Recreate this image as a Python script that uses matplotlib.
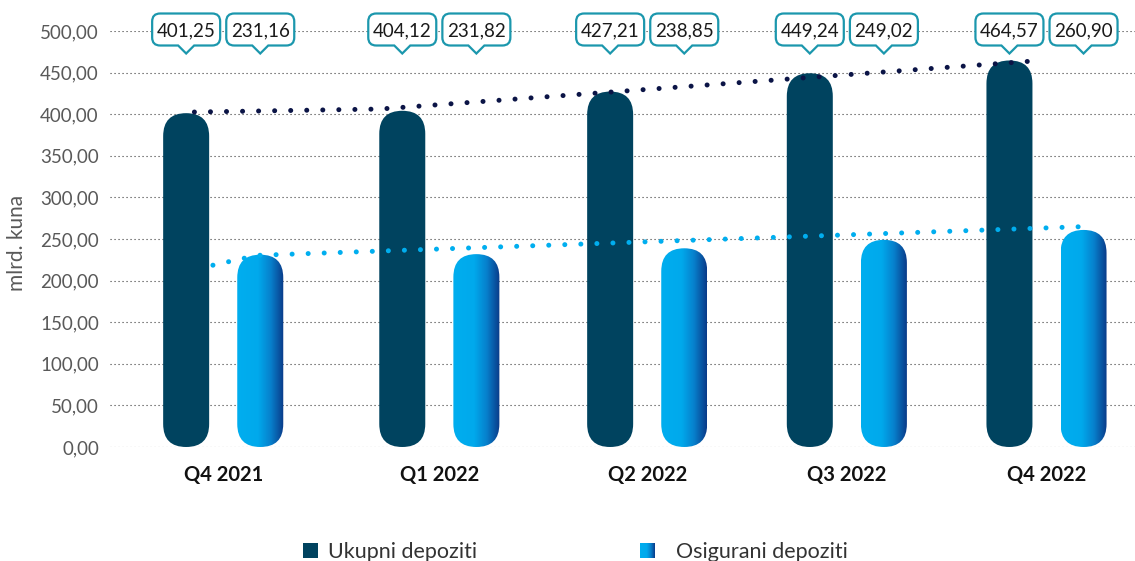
import numpy as np
import matplotlib
matplotlib.use('Agg')
import matplotlib.pyplot as plt
import matplotlib.transforms as mtransforms
from matplotlib.patches import FancyBboxPatch, Rectangle
from matplotlib.path import Path
from matplotlib.colors import LinearSegmentedColormap

plt.rcParams['font.family'] = ['Lato', 'DejaVu Sans']

quarters = ['Q4 2021', 'Q1 2022', 'Q2 2022', 'Q3 2022', 'Q4 2022']
ukupni = [401.25, 404.12, 427.21, 449.24, 464.57]
osigurani = [231.16, 231.82, 238.85, 249.02, 260.90]
y_ticks = [0, 50, 100, 150, 200, 250, 300, 350, 400, 450, 500]

# dotted trend lines (category position, value)
trend_uk_x = [-0.14, 0.76, 3.94]
trend_uk_y = [402.6, 406.2, 464.0]
trend_os_x = [-0.05, 0.10, 0.18, 4.17]
trend_os_y = [218.5, 226.8, 230.5, 264.8]

# group centres on the category axis (slightly uneven in the original)
group_x = [0.0, 1.05, 2.06, 3.03, 4.0]

DARK = '#00435F'
CYAN = '#00AEEF'
NAVY = '#0B1446'
TEAL = '#1B97AD'

W, H = 1135, 561
fig = plt.figure(figsize=(W / 100, H / 100), dpi=100)
ax_l, ax_r, ax_t, ax_b = 110, 1135, 31, 447
ax = fig.add_axes([ax_l / W, 1 - ax_b / H, (ax_r - ax_l) / W, (ax_b - ax_t) / H])

xlim = (-0.55, 4.43)
ylim = (0, 500)
ax.set_xlim(*xlim)
ax.set_ylim(*ylim)

# pixels per data unit, for the capsule shapes
px_x = (ax_r - ax_l) / (xlim[1] - xlim[0])
px_y = (ax_b - ax_t) / (ylim[1] - ylim[0])
bar_w = 46 / px_x
rad = bar_w / 2
aspect = (23 / px_y) / rad
off = 0.18

grad_cmap = LinearSegmentedColormap.from_list(
    'osig', [(0, '#00AEEF'), (0.45, '#00A9EC'), (0.72, '#0780CC'), (1.0, '#0A3A88')])
grad = np.linspace(0, 1, 256).reshape(1, -1)

x = np.array(group_x)
for i in range(len(quarters)):
    xd = x[i] - off - bar_w / 2
    p = FancyBboxPatch((xd, 0), bar_w, ukupni[i],
                       boxstyle=f'round,pad=0,rounding_size={rad}',
                       mutation_aspect=aspect, fc=DARK, ec='none', zorder=2)
    ax.add_patch(p)

    xo = x[i] + off - bar_w / 2
    p2 = FancyBboxPatch((xo, 0), bar_w, osigurani[i],
                        boxstyle=f'round,pad=0,rounding_size={rad}',
                        mutation_aspect=aspect, fc='none', ec='none', zorder=2)
    ax.add_patch(p2)
    im = ax.imshow(grad, extent=[xo, xo + bar_w, 0, osigurani[i]], aspect='auto',
                   cmap=grad_cmap, zorder=2, interpolation='bilinear')
    im.set_clip_path(p2)

ax.set_xlim(*xlim)
ax.set_ylim(*ylim)

# trend lines
ax.plot(trend_uk_x, trend_uk_y, color=NAVY, lw=3.6, linestyle=(0, (0.01, 3.2)),
        dash_capstyle='round', zorder=4, clip_on=False)
ax.plot(trend_os_x, trend_os_y, color=CYAN, lw=3.6, linestyle=(0, (0.01, 3.2)),
        dash_capstyle='round', zorder=4, clip_on=False)


def callout(x0, y0, width, height, mutation_size):
    cx = x0 + width / 2
    cy = y0 + height / 2 + 1.5
    w, h, r, n = 68, 32, 8, 8
    L, R, B, T = cx - w / 2, cx + w / 2, cy - h / 2, cy + h / 2
    verts = [(L + r, B), (cx - n, B), (cx, B - n), (cx + n, B), (R - r, B),
             (R, B), (R, B + r), (R, T - r), (R, T), (R - r, T), (L + r, T),
             (L, T), (L, T - r), (L, B + r), (L, B), (L + r, B), (L + r, B)]
    codes = [Path.MOVETO, Path.LINETO, Path.LINETO, Path.LINETO, Path.LINETO,
             Path.CURVE3, Path.CURVE3, Path.LINETO, Path.CURVE3, Path.CURVE3, Path.LINETO,
             Path.CURVE3, Path.CURVE3, Path.LINETO, Path.CURVE3, Path.CURVE3, Path.CLOSEPOLY]
    return Path(verts, codes)


def fmt(v):
    return f'{v:.2f}'.replace('.', ',')


trans = mtransforms.blended_transform_factory(ax.transData, ax.transAxes)
for i in range(len(quarters)):
    for xv, val in ((x[i] - off, ukupni[i]), (x[i] + off, osigurani[i])):
        ax.text(xv, 1.0, fmt(val), transform=trans, ha='center', va='center',
                fontsize=13.5, color='#1a1a1a', zorder=6, clip_on=False,
                bbox=dict(boxstyle=callout, fc='white', ec=TEAL, lw=1.6))

# axes styling
ax.set_yticks(y_ticks)
ax.set_yticklabels([fmt(v) for v in y_ticks], fontsize=13.5, color='#595959')
ax.set_xticks(x)
ax.set_xticklabels(quarters, fontsize=14.5, fontweight='bold', color='#111111')
ax.tick_params(axis='both', length=0)
ax.tick_params(axis='y', pad=8)
ax.tick_params(axis='x', pad=13)
for s in ax.spines.values():
    s.set_visible(False)
ax.yaxis.grid(True, linestyle=(0, (1, 2.6)), color='#3a3a3a', lw=0.8)
ax.set_axisbelow(True)
ax.set_ylabel('mlrd. kuna', fontsize=15, color='#595959')
ax.yaxis.set_label_coords((27 - ax_l) / (ax_r - ax_l), 0.49)

# legend
fig.add_artist(Rectangle((303 / W, 1 - 558 / H), 15 / W, 15 / H,
                         transform=fig.transFigure, fc=DARK, ec='none'))
fig.text(328 / W, 1 - 552 / H, 'Ukupni depoziti', fontsize=15.5, color='#333333', va='center')
lax = fig.add_axes([640 / W, 1 - 558 / H, 15 / W, 15 / H])
lax.imshow(grad, aspect='auto', cmap=grad_cmap, interpolation='bilinear')
lax.axis('off')
fig.text(676 / W, 1 - 552 / H, 'Osigurani depoziti', fontsize=15.5, color='#333333', va='center')

fig.savefig('out.png', dpi=100)
